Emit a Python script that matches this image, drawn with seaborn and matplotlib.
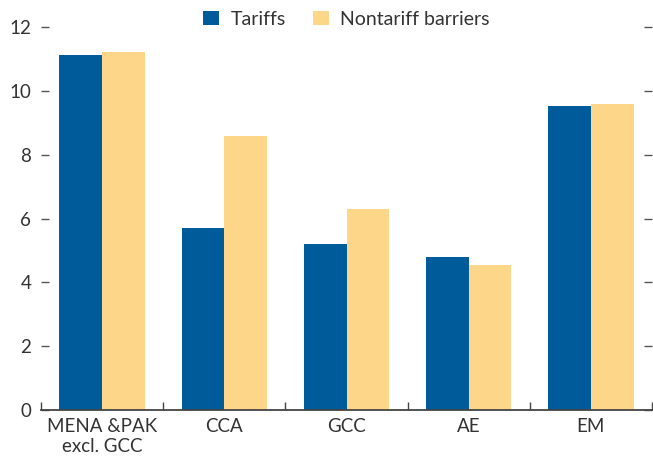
import matplotlib
matplotlib.use("Agg")
import matplotlib.pyplot as plt
import seaborn as sns
import pandas as pd
import numpy as np

regions = ['MENA &PAK\nexcl. GCC', 'CCA', 'GCC', 'AE', 'EM']
tariffs = [11.13, 5.7, 5.2, 4.8, 9.53]
nontariff = [11.22, 8.59, 6.3, 4.55, 9.59]
series = ['Tariffs', 'Nontariff barriers']
colors = ['#005b9a', '#fdd68a']

df = pd.DataFrame({
    'region': regions * 2,
    'value': tariffs + nontariff,
    'type': [series[0]] * len(regions) + [series[1]] * len(regions),
})

sns.set_style("white")
plt.rcParams['font.family'] = ['Lato', 'DejaVu Sans']
txt = '#333333'

fig = plt.figure(figsize=(6.53, 4.61), dpi=100)
ax = fig.add_axes([0.0628, 0.1106, 0.9357, 0.8654])

sns.barplot(data=df, x='region', y='value', hue='type', palette=colors,
            width=0.70, saturation=1, linewidth=0, ax=ax, legend=True)

ax.set_ylim(0, 12.5)
ax.set_xlim(-0.5, len(regions) - 0.5)
ax.set_yticks(np.arange(0, 13, 2))
ax.set_xlabel('')
ax.set_ylabel('')

for s in ['left', 'right', 'top']:
    ax.spines[s].set_visible(False)
ax.spines['bottom'].set_color('#444444')
ax.spines['bottom'].set_linewidth(1.3)

ax.tick_params(axis='y', direction='in', length=6, width=1, color='#555555',
               left=True, right=True, labelleft=True, labelright=False,
               labelsize=13.5, labelcolor=txt, pad=7)
ax.tick_params(axis='x', which='major', length=0, labelsize=13.5,
               labelcolor=txt, pad=6)
ax.set_xticks(np.arange(-0.5, len(regions), 1), minor=True)
ax.tick_params(axis='x', which='minor', direction='in', length=6, width=1,
               color='#444444', bottom=True)

handles, labels = ax.get_legend_handles_labels()
ax.legend(handles, labels, loc='upper center', bbox_to_anchor=(0.5, 1.045),
          ncol=2, frameon=False, fontsize=14, labelcolor=txt,
          handlelength=0.8, handleheight=0.8, handletextpad=0.6,
          columnspacing=1.4)

fig.savefig('out.png', dpi=100)
